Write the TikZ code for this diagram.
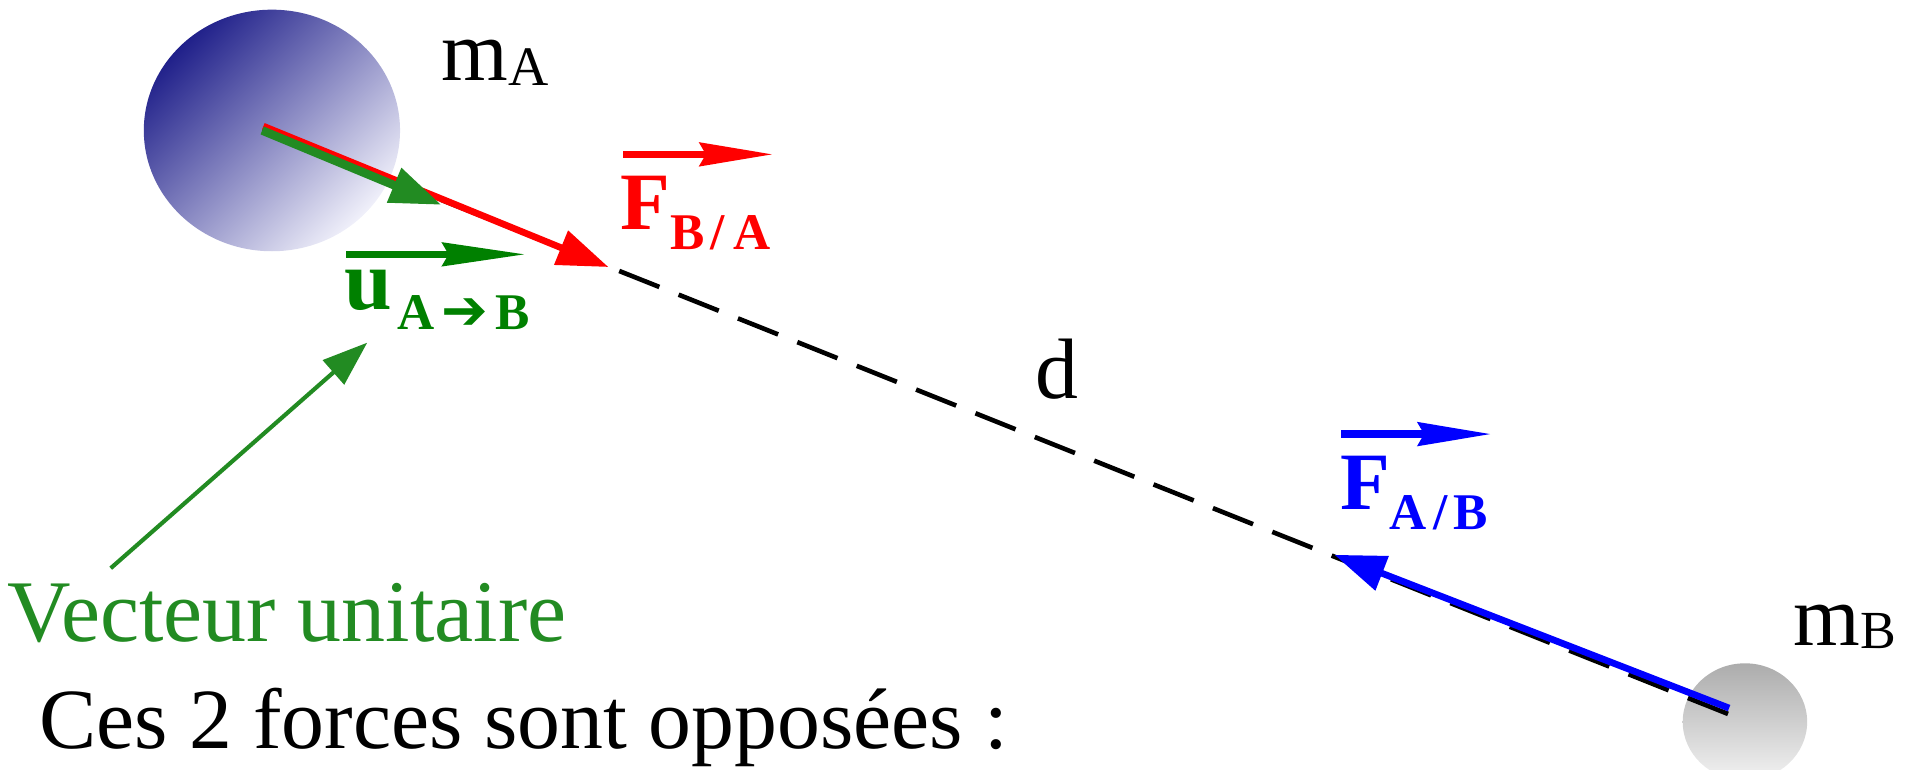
\documentclass[tikz,border=0pt]{standalone}
\usepackage{fontspec}
\setmainfont{Liberation Serif}
\newfontfamily\djv{DejaVu Sans}
\usetikzlibrary{arrows.meta}
\definecolor{fgreen}{HTML}{228B22}
\definecolor{dgreen}{HTML}{008000}
\definecolor{ballAa}{RGB}{32,32,138}
\definecolor{ballAb}{RGB}{240,240,250}
\definecolor{ballBa}{RGB}{172,172,172}
\definecolor{ballBb}{RGB}{242,242,242}
\begin{document}
\begin{tikzpicture}[x=0.01cm,y=-0.01cm,
  lbl/.style={anchor=base west, inner sep=0pt, outer sep=0pt, font=\fontsize{20}{24}\selectfont},
  forcearrow/.style={line width=0.055cm, -{Triangle[length=0.42cm,width=0.29cm]}},
  overarrow/.style={line width=0.06cm, -{Stealth[length=0.6cm,width=0.19cm,inset=0.05cm]}},
  distline/.style={line width=0.038cm, dash pattern=on 0.354cm off 0.17cm}
]
\useasboundingbox (0,0) rectangle (1568,631);
% masses
\shade[top color=ballAa, bottom color=ballAb, shading angle=45] (223,107) ellipse [x radius=1.05cm, y radius=0.99cm];
\shade[top color=ballBa, bottom color=ballBb] (1431,592) ellipse [x radius=0.51cm, y radius=0.48cm];
% key points
\coordinate (cA) at (215.7,105.5);
\coordinate (cB) at (1419.6,586.5);
\coordinate (rS) at (216,103.5);
\coordinate (rT) at (499,219);
\coordinate (gS) at (215,107);
\coordinate (gT) at (362,168);
\coordinate (bS) at (1418,580.7);
\coordinate (bT) at (1094.3,455);
\coordinate (pS) at (90.8,466);
\coordinate (pT) at (301.2,281);
% distance line
\draw[distline] (cA) -- (cB);
% forces
\draw[forcearrow, red] (rS) -- (rT);
\draw[forcearrow, fgreen, line width=0.07cm] (gS) -- (gT);
\draw[forcearrow, blue] (bS) -- (bT);
% labels
\node[lbl] (mA) at (362,66.4) {m\raisebox{-0.04cm}{\fontsize{13}{15}\selectfont A}};
\node[lbl] (mB) at (1471,529) {m\raisebox{-0.026cm}{\fontsize{12.5}{14}\selectfont B}};
\node[lbl] (dd) at (849,326.5) {d};
\node[lbl, red] (FBA) at (509,188) {\fontsize{19}{22}\selectfont\bfseries F\raisebox{-0.165cm}{\fontsize{12}{14}\selectfont B\kern0.05cm/\kern0.07cm A}};
\node[lbl, blue] (FAB) at (1099,418) {\fontsize{19}{22}\selectfont\bfseries F\raisebox{-0.166cm}{\fontsize{12}{14}\selectfont A\kern0.05cm/\kern0.05cm B}};
\node[lbl, dgreen] (uAB) at (282.6,254) {\bfseries u\kern0.04cm\raisebox{-0.166cm}{\fontsize{12}{14}\selectfont A\kern0.06cm{\djv\fontsize{13}{14}\selectfont ➔}\kern0.06cm B}};
% over arrows
\coordinate (oR1) at (511,126.6); \coordinate (oR2) at (634,126.6);
\coordinate (oB1) at (1100,356); \coordinate (oB2) at (1223,356);
\coordinate (oG1) at (284,208.6); \coordinate (oG2) at (431,208.6);
\draw[overarrow, red] (oR1) -- (oR2);
\draw[overarrow, blue] (oB1) -- (oB2);
\draw[overarrow, dgreen, -{Stealth[length=0.68cm,width=0.19cm,inset=0.05cm]}] (oG1) -- (oG2);
% pointer
\draw[fgreen, line width=0.034cm, -{Triangle[length=0.37cm,width=0.26cm]}] (pS) -- (pT);
\node[lbl, fgreen, font=\fontsize{20.5}{24}\selectfont] (vu) at (6,526) {Vecteur unitaire};
\node[lbl] (ces) at (32,614) {Ces 2 forces sont opposées :};
\end{tikzpicture}
\end{document}
